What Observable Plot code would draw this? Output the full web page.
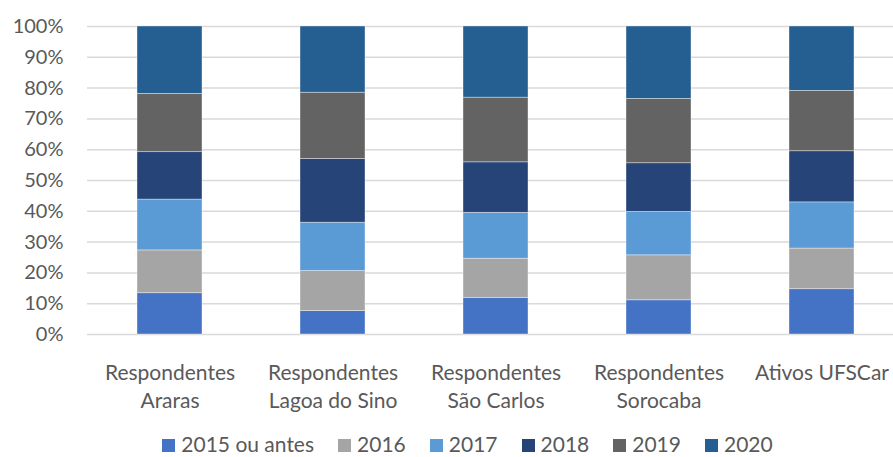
<!DOCTYPE html>
<html>
<head>
<meta charset="utf-8">
<script src="https://cdn.jsdelivr.net/npm/d3@7"></script>
<script src="https://cdn.jsdelivr.net/npm/@observablehq/plot@0.6"></script>
<style>
  body { margin: 0; background: #fff; font-family: Lato, "Open Sans", sans-serif; }
  #chart svg { display: block; }
  #legend {
    display: flex; justify-content: center; box-sizing: border-box;
    width: 893px; padding-left: 42px; padding-top: 4px;
    height: 27px; line-height: 20px; font-size: 21px; color: #595959;
    font-family: Lato, sans-serif; white-space: nowrap;
  }
  .item { margin-right: 24px; }
  .item:last-child { margin-right: 0; }
  .sw { display: inline-block; width: 13px; height: 13px; margin-right: 6px; vertical-align: baseline; }
</style>
</head>
<body>
<div id="chart"></div>
<div id="legend"></div>
<script>
const categories = [
  "Respondentes\nAraras",
  "Respondentes\nLagoa do Sino",
  "Respondentes\nSão Carlos",
  "Respondentes\nSorocaba",
  "Ativos UFSCar"
];
const series = ["2015 ou antes", "2016", "2017", "2018", "2019", "2020"];
const colors = ["#4472C4", "#A5A5A5", "#5B9BD5", "#264478", "#636363", "#255E91"];

// percentage share of each series per category (order of categories)
const v2015 = [13.4, 7.6, 11.9, 11.1, 14.7];
const v2016 = [13.9, 13.0, 12.7, 14.6, 13.2];
const v2017 = [16.5, 15.7, 14.9, 14.1, 15.0];
const v2018 = [15.4, 20.7, 16.4, 15.8, 16.6];
const v2019 = [18.9, 21.5, 21.0, 20.9, 19.6];
const v2020 = [21.9, 21.5, 23.1, 23.5, 20.9];

const yTicks = [0, 10, 20, 30, 40, 50, 60, 70, 80, 90, 100];

const seriesValues = [v2015, v2016, v2017, v2018, v2019, v2020];
const table = [];
series.forEach((s, si) => {
  categories.forEach((c, ci) => {
    table.push({ category: c, series: s, value: seriesValues[si][ci] });
  });
});

const chart = Plot.plot({
  width: 893,
  height: 430,
  marginLeft: 87,
  marginRight: 0,
  marginTop: 26,
  marginBottom: 96,
  style: { fontFamily: "Lato, sans-serif", fontSize: "20px", color: "#595959", background: "white", overflow: "visible" },
  x: { domain: categories, range: [87, 904.5], paddingInner: 0.6, paddingOuter: 0.3, label: null },
  y: { domain: [0, 100], label: null },
  color: { domain: series, range: colors },
  marks: [
    Plot.gridY(yTicks, { stroke: "#d9d9d9", strokeOpacity: 1, strokeWidth: 1.5 }),
    Plot.barY(table, { x: "category", y: "value", fill: "series", stroke: "#ffffff", strokeOpacity: 0.5, strokeWidth: 0.75 }),
    Plot.axisY(yTicks, { tickSize: 0, tickPadding: 24, tickFormat: d => d + "%", label: null, fontSize: 20, fill: "#595959" }),
    Plot.axisX({ tickSize: 0, tickPadding: 26, lineHeight: 1.33, label: null, fontSize: 21, fill: "#595959" })
  ]
});
document.getElementById("chart").appendChild(chart);

const legend = document.getElementById("legend");
series.forEach((s, i) => {
  const item = document.createElement("span");
  item.className = "item";
  const sw = document.createElement("span");
  sw.className = "sw";
  sw.style.background = colors[i];
  item.appendChild(sw);
  item.appendChild(document.createTextNode(s));
  legend.appendChild(item);
});
</script>
</body>
</html>
